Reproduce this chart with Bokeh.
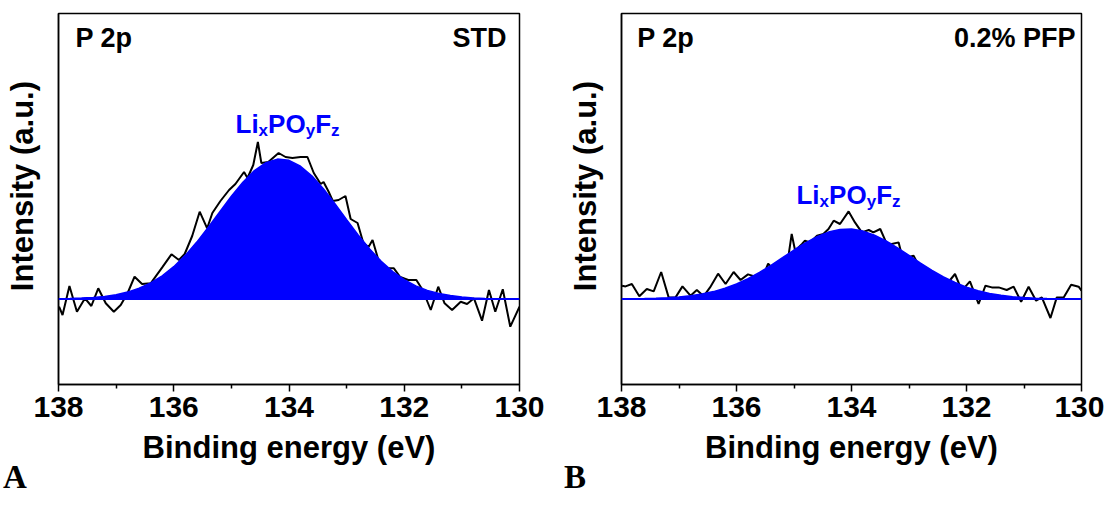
from bokeh.plotting import figure
from bokeh.layouts import row, column
from bokeh.models import Range1d, FixedTicker, Label, Span, Div
from bokeh.embed import file_html
from bokeh.resources import INLINE

# ---------------- data ----------------
x_ticks = [138, 136, 134, 132, 130]
x_minor_ticks = [137, 135, 133, 131]
panel_letters = ["A", "B"]
sample_names = ["STD", "0.2% PFP"]
core_level = "P 2p"
species = ["Li", "x", "PO", "y", "F", "z"]

# raw spectrum, panel A (STD)
raw_a_energy = [137.99, 137.93, 137.81, 137.68, 137.54, 137.43, 137.31, 137.18, 137.04, 136.92,
                136.80, 136.68, 136.55, 136.40, 136.20, 136.04, 135.91, 135.81, 135.68, 135.55,
                135.42, 135.33, 135.19, 135.04, 134.93, 134.78, 134.72, 134.62, 134.54, 134.48,
                134.36, 134.18, 134.06, 133.94, 133.80, 133.68, 133.57, 133.45, 133.40, 133.31,
                133.24, 133.14, 133.02, 132.93, 132.81, 132.71, 132.62, 132.55, 132.44, 132.30,
                132.18, 132.07, 131.93, 131.79, 131.68, 131.54, 131.41, 131.30, 131.17, 131.02,
                130.91, 130.79, 130.65, 130.53, 130.42, 130.29, 130.16, 130.00]
raw_a_intensity = [-7.7, -16, 13, -12.7, 0.7, -7, 10.7, -4.3, -12.7, -6,
                   6, 22.3, 15, 15.7, 31.7, 44.7, 39, 45, 63, 87.3,
                   70.7, 86, 98, 109, 115, 127, 121, 134, 157, 136,
                   137, 146, 142, 141, 142, 142, 126, 115, 117, 107,
                   98, 99, 103, 80, 76, 56, 52, 59, 37.3, 31,
                   30.7, 22, 19, 19, 9, -11, 12.3, -4.3, -11, -2.7,
                   -5, 0.7, -21.7, 9, -12.7, 9.7, -27.7, -7.7]

# raw spectrum, panel B (0.2% PFP)
raw_b_energy = [137.99, 137.93, 137.82, 137.69, 137.56, 137.44, 137.31, 137.18, 137.06, 136.94,
                136.80, 136.69, 136.57, 136.46, 136.32, 136.19, 136.05, 135.93, 135.80, 135.67,
                135.55, 135.45, 135.38, 135.23, 135.10, 135.04, 134.98, 134.86, 134.81, 134.72,
                134.60, 134.49, 134.40, 134.31, 134.20, 134.05, 133.94, 133.82, 133.70, 133.62,
                133.50, 133.39, 133.30, 133.18, 133.13, 133.04, 132.92, 132.83, 132.70, 132.57,
                132.44, 132.34, 132.20, 132.08, 131.94, 131.79, 131.67, 131.56, 131.44, 131.30,
                131.18, 131.05, 130.92, 130.79, 130.69, 130.54, 130.43, 130.31, 130.18, 130.05,
                130.00]
raw_b_intensity = [13.3, 12.6, 15, 2.8, 10, 7.6, 27, 1.6, 1.6, 12.6,
                   3.3, 9, 2.8, 11.6, 25.3, 15, 27, 19, 24.6, 22.3,
                   21, 35.3, 31.3, 36, 41.6, 65, 48.3, 55, 58.3, 56.6,
                   63.3, 65, 70, 78.3, 75, 87.6, 76.6, 66.6, 69, 66.6,
                   70, 55.6, 55, 56.6, 45, 41.6, 43.3, 33.3, 26.3, 18.3,
                   21, 15, 25, 8.3, 17.6, -5, 13.3, 11.6, 11.6, 9,
                   12.3, -2.7, 12.3, -1.7, 1.6, -19, 1.6, 1.6, 14.3, 12.3,
                   8.3]

# fitted Li_xPO_yF_z component (envelope read at 0.2 eV steps)
fit_energy = [138.0, 137.8, 137.6, 137.4, 137.2, 137.0, 136.8, 136.6, 136.4, 136.2,
              136.0, 135.8, 135.6, 135.4, 135.2, 135.0, 134.8, 134.6, 134.4, 134.2,
              134.0, 133.8, 133.6, 133.4, 133.2, 133.0, 132.8, 132.6, 132.4, 132.2,
              132.0, 131.8, 131.6, 131.4, 131.2, 131.0, 130.8, 130.6, 130.4, 130.2,
              130.0]
fit_a_intensity = [0.2, 0.5, 0.9, 1.5, 2.6, 4.3, 6.9, 10.7, 16.0, 23.1,
                   32.3, 43.6, 56.9, 71.7, 87.3, 102.7, 116.8, 128.4, 136.3, 139.9,
                   138.7, 132.8, 123.0, 110.0, 95.1, 79.4, 64.1, 50.0, 37.7, 27.4,
                   19.3, 13.1, 8.6, 5.5, 3.4, 2.0, 1.1, 0.6, 0.3, 0.2,
                   0.1]
fit_b_intensity = [0.1, 0.2, 0.4, 0.7, 1.2, 2.0, 3.2, 5.0, 7.4, 10.7,
                   15.0, 20.3, 26.6, 33.7, 41.3, 49.0, 56.2, 62.3, 66.9, 69.5,
                   69.9, 67.9, 63.9, 58.2, 51.2, 43.6, 35.9, 28.7, 22.1, 16.5,
                   11.9, 8.3, 5.6, 3.7, 2.3, 1.4, 0.8, 0.5, 0.3, 0.1,
                   0.1]
baseline_level = 0

# ---------------- styling ----------------
SANS = "Liberation Sans"
BLUE = "#0000FF"
H = 478           # figure height
FH = 371          # frame height
TOP = 13
Y0, Y1 = -85.5, 285.5
NB = "\u00a0"


def make_panel(width, left, right, raw_e, raw_i, fit_i, name,
               name_x, name_y, tag_x, tag_y, sp_x, sp_y):
    p = figure(width=width, height=H, output_backend="svg", toolbar_location=None,
               x_range=Range1d(138, 130), y_range=Range1d(Y0, Y1),
               min_border_left=left, min_border_right=right,
               min_border_top=TOP, min_border_bottom=H - TOP - FH)
    p.background_fill_color = "white"
    p.border_fill_color = "white"
    p.grid.visible = False
    p.outline_line_color = "black"
    p.outline_line_width = 1.5
    p.outline_line_alpha = 1

    # raw data, then fit fill over it, then baseline / fit outline
    p.line(raw_e, raw_i, line_color="black", line_width=2)
    p.varea(x=fit_energy, y1=[baseline_level] * len(fit_energy), y2=fit_i, fill_color=BLUE)
    p.line(fit_energy, fit_i, line_color=BLUE, line_width=1.5)
    p.add_layout(Span(location=baseline_level, dimension="width", line_color=BLUE, line_width=2))

    xa = p.xaxis[0]
    xa.ticker = FixedTicker(ticks=x_ticks, minor_ticks=x_minor_ticks)
    xa.axis_line_color = "black"
    xa.axis_line_width = 1.5
    xa.major_tick_line_width = 1.5
    xa.minor_tick_line_width = 1.5
    xa.major_tick_in = 0
    xa.major_tick_out = 7
    xa.minor_tick_in = 0
    xa.minor_tick_out = 4
    xa.major_label_standoff = 5
    xa.major_label_text_font = SANS
    xa.major_label_text_font_style = "bold"
    xa.major_label_text_font_size = "30px"
    xa.major_label_text_color = "black"
    xa.axis_label = "Binding energy (eV)"
    xa.axis_label_text_font = SANS
    xa.axis_label_text_font_style = "bold"
    xa.axis_label_text_font_size = "31px"
    xa.axis_label_text_color = "black"
    xa.axis_label_standoff = 10

    ya = p.yaxis[0]
    ya.ticker = FixedTicker(ticks=[])
    ya.axis_line_color = "black"
    ya.axis_line_width = 1.5
    ya.major_tick_line_color = None
    ya.minor_tick_line_color = None
    # leading no-break spaces lift the centred title slightly, as in the original
    ya.axis_label = NB * 3 + "Intensity (a.u.)"
    ya.axis_label_text_font = SANS
    ya.axis_label_text_font_style = "bold"
    ya.axis_label_text_font_size = "31px"
    ya.axis_label_text_color = "black"
    ya.axis_label_standoff = 19

    def lab(text, x, y, size, color="black", align="left", xo=0, yo=0):
        p.add_layout(Label(x=x, y=y, text=text, x_offset=xo, y_offset=yo,
                           text_font=SANS, text_font_style="bold",
                           text_font_size=size, text_color=color,
                           text_align=align, text_baseline="alphabetic"))

    lab(core_level, name_x, name_y, "27px")
    lab(name, tag_x, tag_y, "27px", align="right")

    # Li_xPO_yF_z with subscripts
    offsets = [0, 23.1, 32.6, 70.2, 79.7, 95.6]
    for i, piece in enumerate(species):
        sub = i % 2 == 1
        lab(piece, sp_x, sp_y, "17px" if sub else "26px", color=BLUE,
            xo=offsets[i], yo=-6.6 if sub else 0)
    return p


def letter_div(letter, width, pad):
    html = ("<div style=\"position:relative; top:-6px; padding-left:%dpx; "
            "font-family:'Liberation Serif'; font-weight:bold; font-size:33px; "
            "line-height:10px; color:black;\">%s</div>" % (pad, letter))
    return Div(text=html, width=width, height=10, margin=0)


WA, WB = 560, 544
pa = make_panel(WA, 58, 41, raw_a_energy, raw_a_intensity, fit_a_intensity,
                sample_names[0], 137.705, 261, 130.225, 261, 134.928, 175.3)
pb = make_panel(WB, 61, 23, raw_b_energy, raw_b_intensity, fit_b_intensity,
                sample_names[1], 137.727, 260.6, 130.104, 260.6, 134.957, 104)

layout = column(row(pa, pb), row(letter_div(panel_letters[0], WA, 3),
                                 letter_div(panel_letters[1], WB, 4)))
open("out.html", "w").write(file_html(layout, INLINE))
